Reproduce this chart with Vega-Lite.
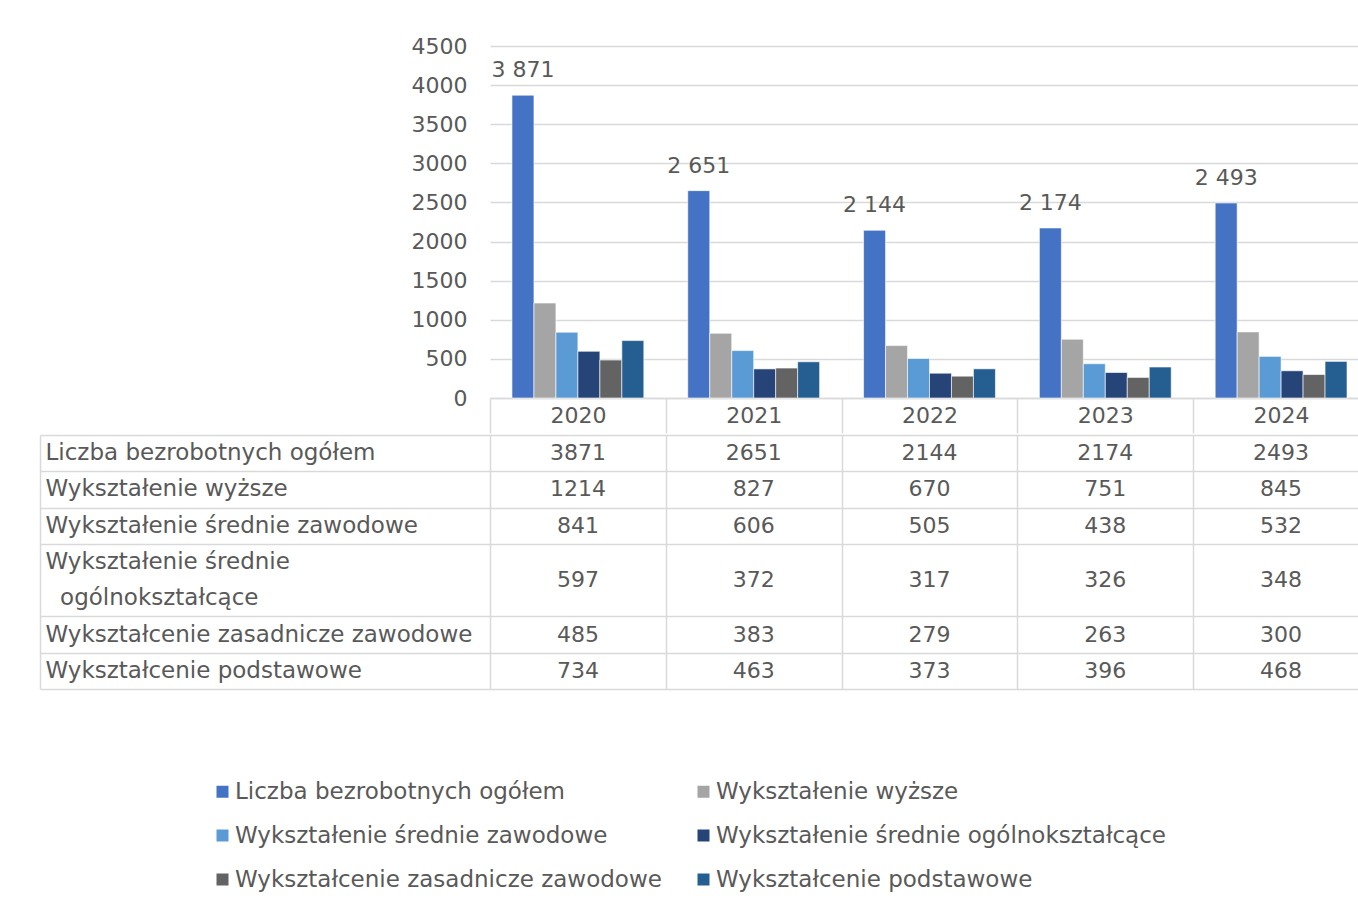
{
  "$schema": "https://vega.github.io/schema/vega-lite/v6.json",
  "padding": {"left": 39, "top": 35, "right": 0, "bottom": 0},
  "background": "white",
  "spacing": 0,
  "config": {
    "font": "DejaVu Sans",
    "view": {"stroke": null},
    "locale": {"number": {"decimal": ",", "thousands": "\u00a0", "grouping": [3], "currency": ["", " zł"]}}
  },
  "datasets": {
    "t": [
      {"year": "2020", "series": "Liczba bezrobotnych ogółem", "value": 3871},
      {"year": "2020", "series": "Wykształenie wyższe", "value": 1214},
      {"year": "2020", "series": "Wykształenie średnie zawodowe", "value": 841},
      {"year": "2020", "series": "Wykształenie średnie ogólnokształcące", "value": 597},
      {"year": "2020", "series": "Wykształcenie zasadnicze zawodowe", "value": 485},
      {"year": "2020", "series": "Wykształcenie podstawowe", "value": 734},
      {"year": "2021", "series": "Liczba bezrobotnych ogółem", "value": 2651},
      {"year": "2021", "series": "Wykształenie wyższe", "value": 827},
      {"year": "2021", "series": "Wykształenie średnie zawodowe", "value": 606},
      {"year": "2021", "series": "Wykształenie średnie ogólnokształcące", "value": 372},
      {"year": "2021", "series": "Wykształcenie zasadnicze zawodowe", "value": 383},
      {"year": "2021", "series": "Wykształcenie podstawowe", "value": 463},
      {"year": "2022", "series": "Liczba bezrobotnych ogółem", "value": 2144},
      {"year": "2022", "series": "Wykształenie wyższe", "value": 670},
      {"year": "2022", "series": "Wykształenie średnie zawodowe", "value": 505},
      {"year": "2022", "series": "Wykształenie średnie ogólnokształcące", "value": 317},
      {"year": "2022", "series": "Wykształcenie zasadnicze zawodowe", "value": 279},
      {"year": "2022", "series": "Wykształcenie podstawowe", "value": 373},
      {"year": "2023", "series": "Liczba bezrobotnych ogółem", "value": 2174},
      {"year": "2023", "series": "Wykształenie wyższe", "value": 751},
      {"year": "2023", "series": "Wykształenie średnie zawodowe", "value": 438},
      {"year": "2023", "series": "Wykształenie średnie ogólnokształcące", "value": 326},
      {"year": "2023", "series": "Wykształcenie zasadnicze zawodowe", "value": 263},
      {"year": "2023", "series": "Wykształcenie podstawowe", "value": 396},
      {"year": "2024", "series": "Liczba bezrobotnych ogółem", "value": 2493},
      {"year": "2024", "series": "Wykształenie wyższe", "value": 845},
      {"year": "2024", "series": "Wykształenie średnie zawodowe", "value": 532},
      {"year": "2024", "series": "Wykształenie średnie ogólnokształcące", "value": 348},
      {"year": "2024", "series": "Wykształcenie zasadnicze zawodowe", "value": 300},
      {"year": "2024", "series": "Wykształcenie podstawowe", "value": 468}
    ]
  },
  "vconcat": [
    {
      "width": 879,
      "height": 352,
      "data": {"name": "t"},
      "layer": [
        {
          "mark": {"type": "bar", "stroke": "white", "strokeWidth": 0.6},
          "encoding": {
            "x": {
              "field": "year", "type": "nominal",
              "scale": {"paddingInner": 0, "paddingOuter": 0},
              "axis": {
                "title": null, "orient": "bottom", "labelAngle": 0,
                "domain": true, "domainColor": "#d9d9d9", "domainWidth": 1.5,
                "ticks": true, "tickBand": "extent", "tickSize": 35, "tickColor": "#d9d9d9", "tickWidth": 1.5,
                "labelFontSize": 22, "labelColor": "#595959", "labelPadding": -28, "grid": false
              }
            },
            "xOffset": {
              "field": "series", "type": "nominal",
              "scale": {
                "domain": ["Liczba bezrobotnych ogółem", "Wykształenie wyższe", "Wykształenie średnie zawodowe", "Wykształenie średnie ogólnokształcące", "Wykształcenie zasadnicze zawodowe", "Wykształcenie podstawowe"],
                "paddingInner": 0, "paddingOuter": 1.05
              }
            },
            "y": {
              "field": "value", "type": "quantitative",
              "scale": {"domain": [0, 4500], "nice": false},
              "axis": {
                "title": null, "values": [0, 500, 1000, 1500, 2000, 2500, 3000, 3500, 4000, 4500], "tickCount": 20,
                "format": "d", "domain": false, "ticks": false, "labelOverlap": false,
                "labelFontSize": 22, "labelColor": "#595959", "labelPadding": 23,
                "grid": true, "gridColor": "#d9d9d9", "gridWidth": 1.5
              }
            },
            "color": {
              "field": "series", "type": "nominal",
              "scale": {
                "domain": ["Liczba bezrobotnych ogółem", "Wykształenie wyższe", "Wykształenie średnie zawodowe", "Wykształenie średnie ogólnokształcące", "Wykształcenie zasadnicze zawodowe", "Wykształcenie podstawowe"],
                "range": ["#4472c4", "#a5a5a5", "#5b9bd5", "#264478", "#636363", "#255e91"]
              },
              "legend": {
                "orient": "none", "legendX": -279, "legendY": 734, "columns": 2, "direction": "horizontal", "title": null,
                "symbolType": "square", "symbolSize": 144, "symbolStrokeWidth": 0,
                "labelFontSize": 23, "labelColor": "#595959", "labelLimit": 700,
                "rowPadding": 20, "columnPadding": 30, "labelOffset": 1, "padding": 0
              }
            }
          }
        },
        {
          "transform": [{"filter": {"field": "series", "equal": "Liczba bezrobotnych ogółem"}}],
          "mark": {"type": "text", "baseline": "middle", "dy": -25, "fontSize": 22, "color": "#595959"},
          "encoding": {
            "x": {"field": "year", "type": "nominal"},
            "xOffset": {"field": "series", "type": "nominal"},
            "y": {
              "field": "value", "type": "quantitative",
              "axis": {
                "title": null, "values": [0, 500, 1000, 1500, 2000, 2500, 3000, 3500, 4000, 4500], "tickCount": 20,
                "format": "d", "domain": false, "ticks": false, "labelOverlap": false,
                "labelFontSize": 22, "labelColor": "#595959", "labelPadding": 23,
                "grid": true, "gridColor": "#d9d9d9", "gridWidth": 1.5
              }
            },
            "text": {"field": "value", "type": "quantitative", "format": ",d"}
          }
        }
      ]
    },
    {
      "width": 879,
      "height": 254,
      "data": {"name": "t"},
      "layer": [
        {
          "transform": [{"filter": "datum.series !== 'Wykształenie średnie ogólnokształcące'"}],
          "mark": {"type": "text", "fontSize": 22, "color": "#595959", "baseline": "middle"},
          "encoding": {
            "x": {
              "field": "year", "type": "nominal",
              "scale": {"paddingInner": 0, "paddingOuter": 0},
              "axis": {"title": null, "labels": false, "ticks": false, "domain": false, "grid": true, "tickBand": "extent", "gridColor": "#d9d9d9", "gridWidth": 1.5}
            },
            "y": {
              "field": "series", "type": "nominal",
              "scale": {
                "domain": ["Liczba bezrobotnych ogółem", "Wykształenie wyższe", "Wykształenie średnie zawodowe", "Wykształenie średnie ogólnokształcące", "_4b", "Wykształcenie zasadnicze zawodowe", "Wykształcenie podstawowe"],
                "paddingInner": 0, "paddingOuter": 0
              },
              "axis": {
                "orient": "left", "title": null, "domain": false, "ticks": false, "grid": false,
                "labelAlign": "left", "labelPadding": 445, "labelFontSize": 23, "labelColor": "#595959", "labelLimit": 600,
                "labelExpr": "datum.value === '_4b' ? '\u200b\u00a0\u00a0ogólnokształcące' : (datum.value === 'Wykształenie średnie ogólnokształcące' ? 'Wykształenie średnie' : datum.label)"
              }
            },
            "text": {"field": "value", "type": "quantitative", "format": "d"}
          }
        },
        {
          "transform": [{"filter": "datum.series === 'Wykształenie średnie ogólnokształcące'"}],
          "mark": {"type": "text", "fontSize": 22, "color": "#595959", "baseline": "middle"},
          "encoding": {
            "x": {"field": "year", "type": "nominal"},
            "y": {"field": "series", "type": "nominal", "bandPosition": 1},
            "text": {"field": "value", "type": "quantitative", "format": "d"}
          }
        },
        {
          "mark": {"type": "tick", "opacity": 0},
          "encoding": {
            "x": {"field": "year", "type": "nominal"},
            "y": {
              "field": "series", "type": "nominal",
              "axis": {
                "orient": "left", "title": null, "labels": false, "domain": false,
                "ticks": true, "tickBand": "extent", "tickSize": 450, "tickColor": "#d9d9d9", "tickWidth": 1.5,
                "grid": true, "gridColor": "#d9d9d9", "gridWidth": 1.5,
                "values": ["Liczba bezrobotnych ogółem", "Wykształenie wyższe", "Wykształenie średnie zawodowe", "_4b", "Wykształcenie zasadnicze zawodowe", "Wykształcenie podstawowe"]
              }
            }
          }
        },
        {
          "mark": {"type": "tick", "opacity": 0},
          "encoding": {
            "x": {"field": "year", "type": "nominal"},
            "y": {
              "field": "series", "type": "nominal",
              "axis": {
                "orient": "left", "title": null, "labels": false, "ticks": false, "grid": false,
                "domain": true, "domainColor": "#d9d9d9", "domainWidth": 1.5, "offset": 450
              }
            }
          }
        }
      ],
      "resolve": {"axis": {"y": "independent"}}
    }
  ]
}
